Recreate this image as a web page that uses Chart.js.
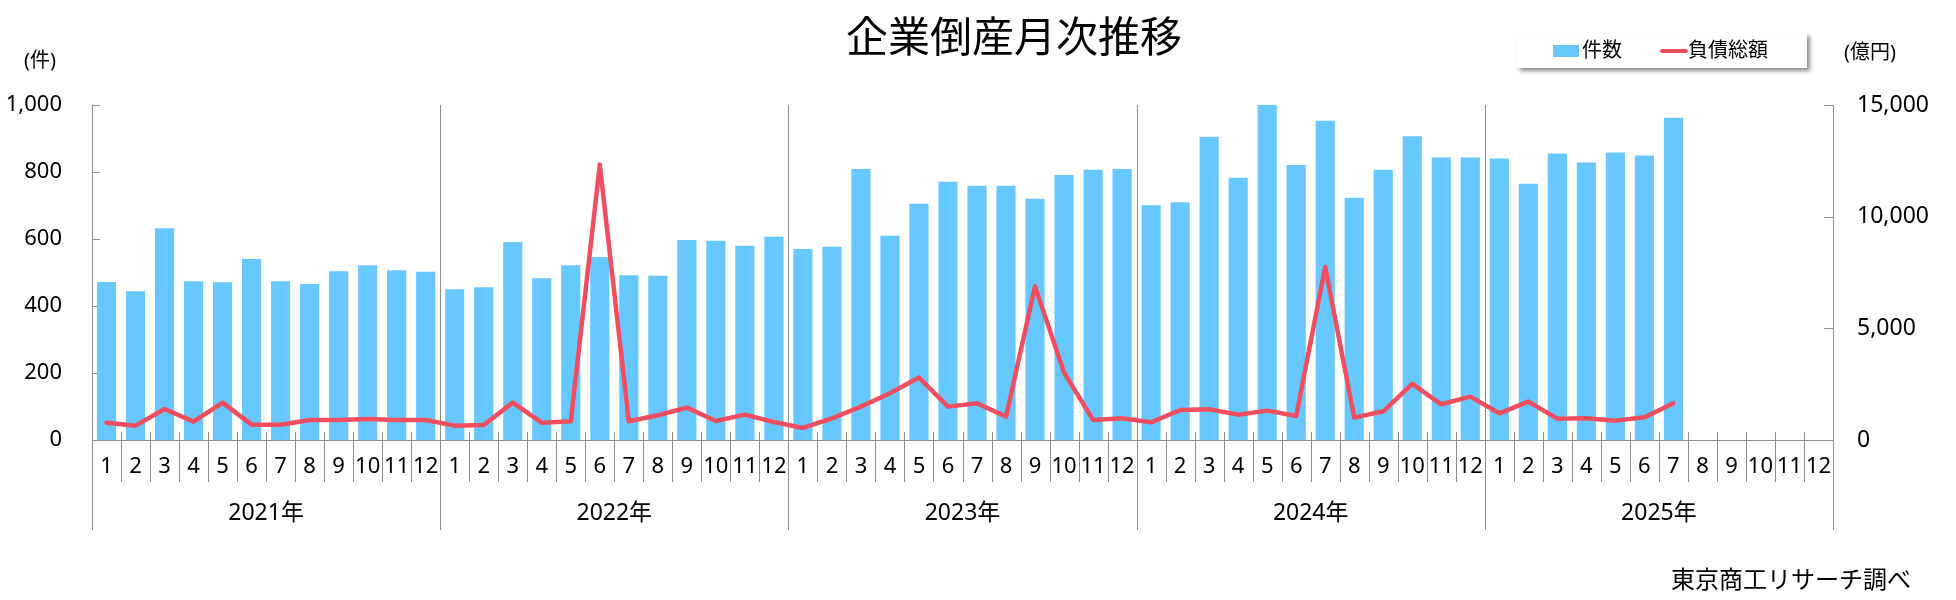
<!DOCTYPE html>
<html lang="ja">
<head>
<meta charset="utf-8">
<title>企業倒産月次推移</title>
<script src="https://cdn.jsdelivr.net/npm/chart.js@4.4.1/dist/chart.umd.min.js"></script>
<style>
  html, body { margin: 0; padding: 0; background: #fff; }
  #wrap { position: relative; width: 1956px; height: 600px; }
</style>
</head>
<body>
<div id="wrap"><canvas id="bankruptcy-chart"></canvas></div>
<script>
// Sample data
const years = ["2021年", "2022年", "2023年", "2024年", "2025年"];
const months = ["1", "2", "3", "4", "5", "6", "7", "8", "9", "10", "11", "12"];

// 件数 (cases), Jan 2021 - Jul 2025
const caseCounts = [
  472, 444, 632, 474, 471, 540, 474, 466, 504, 522, 507, 502,
  450, 456, 591, 483, 522, 546, 492, 490, 597, 595, 580, 607,
  570, 577, 809, 610, 705, 771, 759, 759, 720, 791, 807, 809,
  701, 710, 905, 783, 1000, 821, 953, 723, 807, 907, 843, 843,
  840, 765, 855, 828, 858, 849, 962,
];

// 負債総額 (億円)
const totalDebt = [
  777, 642, 1389, 822, 1673, 687, 687, 896, 896, 941, 896, 896,
  642, 672, 1673, 777, 837, 12330, 837, 1106, 1449, 852, 1135, 807,
  538, 971, 1494, 2092, 2794, 1494, 1643, 1046, 6880, 3018, 896, 971,
  792, 1345, 1374, 1135, 1315, 1076, 7750, 1001, 1285, 2510, 1599, 1942,
  1195, 1718, 956, 971, 867, 1016, 1643,
];

const countTicks = [0, 200, 400, 600, 800, 1000];
const debtTicks = [0, 5000, 10000, 15000];

const chartTitle = "企業倒産月次推移";
const leftUnit = "(件)";
const rightUnit = "(億円)";
const sourceNote = "東京商工リサーチ調べ";

// Styles
const barColor = "#66C8FF";
const lineColor = "#F04E5E";
const axisColor = "#8C8C8C";
const fontFamily = '"Noto Sans", "Noto Sans CJK JP", sans-serif';

Chart.defaults.font.family = fontFamily;
Chart.defaults.color = "#000";

// Extra drawing: separators, inner ticks, year labels, title, legend, notes
const decorations = {
  id: "decorations",
  beforeDatasetsDraw(chart) {
    const { ctx, chartArea: area, scales } = chart;
    const n = scales.x.ticks.length;
    const w = (area.right - area.left) / n;

    ctx.save();
    ctx.strokeStyle = axisColor;
    ctx.lineWidth = 1;

    // month / year separators
    for (let i = 0; i <= n; i++) {
      const px = Math.round(area.left + i * w) + 0.5;
      const yearEdge = i % months.length === 0;
      ctx.beginPath();
      ctx.moveTo(px, yearEdge ? area.top : area.bottom - 8);
      ctx.lineTo(px, yearEdge ? area.bottom + 90 : area.bottom + 42);
      ctx.stroke();
    }

    // inward ticks on both value axes
    scales.y.ticks.forEach((t) => {
      const py = Math.round(scales.y.getPixelForValue(t.value)) + 0.5;
      ctx.beginPath();
      ctx.moveTo(area.left, py);
      ctx.lineTo(area.left + 8, py);
      ctx.stroke();
    });
    scales.y2.ticks.forEach((t) => {
      const py = Math.round(scales.y2.getPixelForValue(t.value)) + 0.5;
      ctx.beginPath();
      ctx.moveTo(area.right - 9, py);
      ctx.lineTo(area.right, py);
      ctx.stroke();
    });
    ctx.restore();
  },
  afterDraw(chart) {
    const { ctx, chartArea: area } = chart;
    const w = (area.right - area.left) / years.length;

    ctx.save();
    ctx.fillStyle = "#000";
    ctx.textBaseline = "middle";

    // year labels
    ctx.textAlign = "center";
    ctx.font = "23px " + fontFamily;
    years.forEach((y, i) => {
      ctx.fillText(y, area.left + w * (i + 0.5), 513);
    });

    // title
    ctx.font = "42px " + fontFamily;
    ctx.fillText(chartTitle, 1014, 40);

    // axis units
    ctx.font = "20px " + fontFamily;
    ctx.fillText(leftUnit, 40, 61);
    ctx.fillText(rightUnit, 1870, 53);

    // source
    ctx.textAlign = "right";
    ctx.font = "24px " + fontFamily;
    ctx.fillText(sourceNote, 1911, 581);

    // legend box
    ctx.shadowColor = "rgba(0, 0, 0, 0.45)";
    ctx.shadowOffsetX = 3;
    ctx.shadowOffsetY = 3;
    ctx.shadowBlur = 4;
    ctx.fillStyle = "#fff";
    ctx.fillRect(1517, 33, 290, 35);
    ctx.shadowColor = "transparent";

    ctx.textAlign = "left";
    ctx.font = "20px " + fontFamily;
    let lx = 1553;
    chart.data.datasets.forEach((ds) => {
      if (ds.type === "line") {
        ctx.strokeStyle = ds.borderColor;
        ctx.lineWidth = 4;
        ctx.lineCap = "round";
        ctx.beginPath();
        ctx.moveTo(lx + 2, 51);
        ctx.lineTo(lx + 26, 51);
        ctx.stroke();
        lx += 28;
      } else {
        ctx.fillStyle = ds.backgroundColor;
        ctx.fillRect(lx, 45, 26, 12);
        lx += 29;
      }
      ctx.fillStyle = "#000";
      ctx.fillText(ds.label, lx, 51);
      lx += ctx.measureText(ds.label).width + 38;
    });
    ctx.restore();
  },
};

let bankruptcyChart;

document.addEventListener("DOMContentLoaded", init);

function init() {
  renderChart();
}

function renderChart() {
  const ctx = document.getElementById("bankruptcy-chart").getContext("2d");
  const labels = years.flatMap(() => months);

  if (bankruptcyChart) {
    bankruptcyChart.destroy();
  }

  bankruptcyChart = new Chart(ctx, {
    type: "bar",
    data: {
      labels: labels,
      datasets: [
        {
          type: "bar",
          label: "件数",
          data: caseCounts,
          backgroundColor: barColor,
          categoryPercentage: 1,
          barPercentage: 0.66,
          yAxisID: "y",
          order: 1,
        },
        {
          type: "line",
          label: "負債総額",
          data: totalDebt,
          borderColor: lineColor,
          borderWidth: 4.5,
          borderJoinStyle: "round",
          borderCapStyle: "round",
          tension: 0,
          pointRadius: 0,
          fill: false,
          yAxisID: "y2",
          order: 0,
        },
      ],
    },
    options: {
      responsive: true,
      maintainAspectRatio: false,
      animation: false,
      layout: { padding: { top: 105, left: 0, right: 0, bottom: 0 } },
      plugins: {
        legend: { display: false },
        title: { display: false },
        tooltip: { enabled: false },
      },
      scales: {
        x: {
          grid: { display: false, drawTicks: false },
          border: { display: true, color: axisColor },
          ticks: {
            autoSkip: false,
            maxRotation: 0,
            padding: 14,
            font: { size: 22 },
          },
          afterFit(scale) {
            scale.height = 160;
          },
        },
        y: {
          position: "left",
          min: 0,
          max: countTicks[countTicks.length - 1],
          grid: { display: false, drawTicks: false },
          border: { display: true, color: axisColor },
          afterBuildTicks(scale) {
            scale.ticks = countTicks.map((v) => ({ value: v }));
          },
          ticks: { padding: 30, font: { size: 22 } },
          afterFit(scale) {
            scale.width = 92;
          },
        },
        y2: {
          position: "right",
          min: 0,
          max: debtTicks[debtTicks.length - 1],
          grid: { display: false, drawTicks: false },
          border: { display: true, color: axisColor },
          afterBuildTicks(scale) {
            scale.ticks = debtTicks.map((v) => ({ value: v }));
          },
          ticks: { padding: 24, font: { size: 23 } },
          afterFit(scale) {
            scale.width = 123;
          },
        },
      },
    },
    plugins: [decorations],
  });
}
</script>
</body>
</html>
